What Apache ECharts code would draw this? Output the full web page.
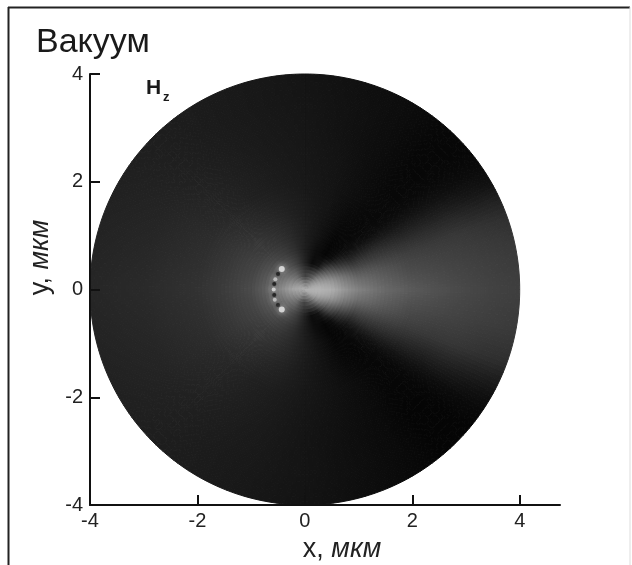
<!DOCTYPE html>
<html>
<head>
<meta charset="utf-8">
<style>html,body{margin:0;padding:0;background:#fff}#c{width:632px;height:565px}</style>
<script src="https://cdn.jsdelivr.net/npm/echarts@6/dist/echarts.min.js"></script>
</head>
<body>
<div id="c"></div>
<script>
// Tick labels
const xTicks = [-4, -2, 0, 2, 4];
const yTicks = [-4, -2, 0, 2, 4];
// Polar sampling positions of the Hz field (degrees, microns)
const angles = [0,10,15,20,25,30,35,40,45,50,60,75,90,105,120,150,180,210,240,255,270,285,300,310,315,320,325,330,335,340,345,350];
const radii = [0, 0.25, 0.5, 0.75, 1, 1.5, 2, 2.5, 3, 3.5, 4];
// Grey level, one row per radius
const shadeR000 = [175,175,175,175,175,175,175,175,175,175,175,175,175,175,175,175,175,175,175,175,175,175,175,175,175,175,175,175,175,175,175,175];
const shadeR025 = [180,178,175,170,166,160,152,145,135,125,105,85,70,85,110,140,165,140,110,85,70,85,105,125,135,145,152,160,166,170,175,178];
const shadeR050 = [175,165,158,150,138,125,110,95,78,60,25,12,35,60,80,105,130,105,80,60,35,12,22,55,72,90,105,120,135,148,158,165];
const shadeR075 = [150,135,126,115,98,80,62,45,28,14,6,14,30,48,62,82,95,82,62,48,30,14,6,14,28,45,60,78,95,112,124,135];
const shadeR100 = [130,112,100,85,68,52,36,22,13,8,6,18,30,42,52,66,75,66,52,42,30,18,6,7,12,20,34,50,66,82,98,112];
const shadeR150 = [105,92,84,72,58,45,28,14,9,8,10,20,27,34,40,54,60,54,40,34,26,18,8,6,8,14,26,42,56,70,82,92];
const shadeR200 = [90,76,70,62,50,36,22,12,9,9,13,20,24,28,32,44,50,44,32,28,23,18,12,7,7,10,20,34,48,60,69,76];
const shadeR250 = [80,70,65,58,46,32,19,10,8,8,12,19,23,26,30,40,46,40,30,26,21,16,11,6,6,8,16,29,42,56,63,70];
const shadeR300 = [72,65,61,56,43,28,16,9,7,7,12,17,22,25,28,36,42,36,28,25,20,15,10,5,5,6,13,26,40,54,60,65];
const shadeR350 = [66,61,57,51,37,22,12,8,7,7,12,17,21,24,27,34,40,34,27,24,20,15,10,5,5,5,10,20,34,49,55,61];
const shadeR400 = [62,58,53,46,32,16,10,7,7,8,12,16,20,24,27,32,38,32,27,23,19,14,9,5,5,5,8,15,28,44,52,58];
const shadeRows = [shadeR000,shadeR025,shadeR050,shadeR075,shadeR100,shadeR150,shadeR200,shadeR250,shadeR300,shadeR350,shadeR400];
// Beaded arc next to the origin
const beadX = [-0.43,-0.50,-0.55,-0.57,-0.58,-0.57,-0.56,-0.50,-0.43];
const beadY = [0.38,0.29,0.19,0.10,0,-0.10,-0.19,-0.29,-0.37];
const beadShade = [235,25,205,20,225,20,205,25,235];
const beadSize = [6,4,4,4,4,4,4,4,6];

const cellData = [];
radii.slice(0, -1).forEach((r, ri) => {
  angles.forEach((a, ai) => {
    const t = a * Math.PI / 180;
    cellData.push([r * Math.cos(t), r * Math.sin(t), shadeRows[ri][ai], ai, ri]);
  });
});
function grey(v) {
  const g = Math.max(0, Math.min(255, Math.round(v)));
  return 'rgb(' + g + ',' + g + ',' + g + ')';
}
function renderCell(params, api) {
  const ai = api.value(3), ri = api.value(4);
  const aj = (ai + 1) % angles.length;
  const a0 = angles[ai], a1 = aj === 0 ? 360 : angles[aj];
  const r0 = radii[ri], r1 = radii[ri + 1];
  const na = Math.max(1, Math.round((a1 - a0) / 1.25));
  const nr = Math.max(1, Math.round((r1 - r0) / 0.07));
  const s00 = shadeRows[ri][ai], s10 = shadeRows[ri][aj];
  const s01 = shadeRows[ri + 1][ai], s11 = shadeRows[ri + 1][aj];
  const at = (u, v) => {
    const t = (a0 + (a1 - a0) * u) * Math.PI / 180, r = r0 + (r1 - r0) * v;
    return api.coord([r * Math.cos(t), r * Math.sin(t)]);
  };
  const children = [];
  for (let i = 0; i < na; i++) {
    for (let j = 0; j < nr; j++) {
      const u0 = i / na, u1 = (i + 1) / na, v0 = j / nr, v1 = (j + 1) / nr;
      const um = (u0 + u1) / 2, vm = (v0 + v1) / 2;
      const c = grey((s00 * (1 - um) + s10 * um) * (1 - vm) + (s01 * (1 - um) + s11 * um) * vm);
      children.push({
        type: 'polygon',
        shape: { points: [at(u0, v0), at(u1, v0), at(u1, v1), at(u0, v1)] },
        style: { fill: c, stroke: c, lineWidth: 1 },
        silent: true
      });
    }
  }
  return { type: 'group', children };
}

const chart = echarts.init(document.getElementById('c'), null, { renderer: 'canvas' });
const FONT = '"Liberation Sans", Arial, sans-serif';
const axisCommon = {
  type: 'value',
  z: 6,
  splitLine: { show: false },
  axisLine: { onZero: false, lineStyle: { color: '#111', width: 2 } }
};
chart.setOption({
  animation: false,
  backgroundColor: '#fff',
  grid: { left: 90, top: 74, width: 470, height: 431, containLabel: false, outerBoundsMode: 'none' },
  title: [
    { text: 'Вакуум', left: 31, top: 21, textStyle: { fontFamily: FONT, fontSize: 34, fontWeight: 'normal', color: '#1a1a1a' } }
  ],
  xAxis: Object.assign({}, axisCommon, {
    min: -4, max: 4.75, position: 'bottom',
    axisTick: { inside: true, length: 10, lineStyle: { color: '#111', width: 2 }, customValues: xTicks },
    axisLabel: { customValues: xTicks, margin: 6, fontFamily: FONT, fontSize: 20, color: '#222', formatter: v => String(v) },
    name: '{a|х, }{b|мкм}', nameLocation: 'middle', nameGap: 28,
    nameTextStyle: { padding: [0, 0, 0, 34], rich: {
      a: { fontFamily: FONT, fontSize: 27, color: '#222' },
      b: { fontFamily: FONT, fontSize: 27, fontStyle: 'italic', color: '#222' } } }
  }),
  yAxis: Object.assign({}, axisCommon, {
    min: -4, max: 4, position: 'left',
    axisTick: { inside: true, length: 10, lineStyle: { color: '#111', width: 2 }, customValues: yTicks },
    axisLabel: { customValues: yTicks, margin: 7, fontFamily: FONT, fontSize: 20, color: '#222', formatter: v => String(v) },
    name: '{a|у, }{b|мкм}', nameLocation: 'middle', nameGap: 31,
    nameTextStyle: { padding: [0, 0, 0, 64], rich: {
      a: { fontFamily: FONT, fontSize: 27, color: '#222' },
      b: { fontFamily: FONT, fontSize: 27, fontStyle: 'italic', color: '#222' } } }
  }),
  graphic: [
    { type: 'line', shape: { x1: 8, y1: 7.5, x2: 630, y2: 7.5 }, style: { stroke: '#222', lineWidth: 2 }, silent: true },
    { type: 'line', shape: { x1: 8.5, y1: 7, x2: 8.5, y2: 565 }, style: { stroke: '#222', lineWidth: 2 }, silent: true },
    { type: 'line', shape: { x1: 630, y1: 7, x2: 630, y2: 565 }, style: { stroke: '#ddd', lineWidth: 1 }, silent: true },
    { type: 'text', left: 146, top: 78, style: { text: 'H', font: 'bold 21px ' + FONT, fill: '#1a1a1a' } },
    { type: 'text', left: 163, top: 91, style: { text: 'z', font: 'bold 13px ' + FONT, fill: '#1a1a1a' } }
  ],
  series: [
    {
      type: 'custom', coordinateSystem: 'cartesian2d', data: cellData, renderItem: renderCell,
      encode: { x: 0, y: 1 }, clip: false, silent: true, z: 2, progressive: 0, animation: false
    },
    {
      type: 'scatter', coordinateSystem: 'cartesian2d', z: 3, silent: true, animation: false,
      data: beadX.map((x, i) => ({
        value: [x, beadY[i]],
        symbolSize: beadSize[i],
        itemStyle: {
          color: grey(beadShade[i]),
          shadowBlur: beadShade[i] > 100 ? 6 : 2,
          shadowColor: beadShade[i] > 100 ? 'rgba(255,255,255,0.8)' : 'rgba(0,0,0,0.6)'
        }
      }))
    }
  ]
});
</script>
</body>
</html>
